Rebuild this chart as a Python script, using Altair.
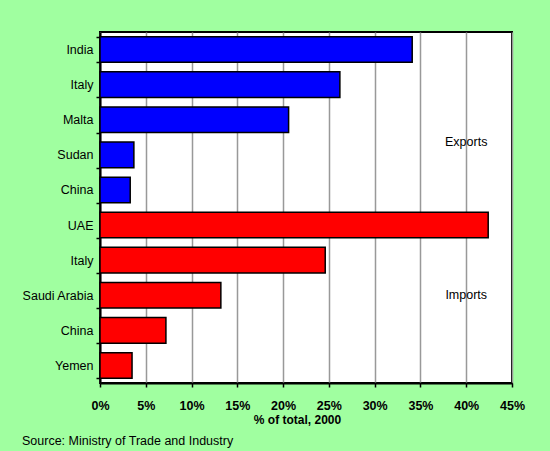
import altair as alt
import pandas as pd

countries = ["India", "Italy", "Malta", "Sudan", "China",
             "UAE", "Italy", "Saudi Arabia", "China", "Yemen"]
shares = [34.1, 26.2, 20.6, 3.7, 3.3, 42.4, 24.6, 13.2, 7.2, 3.5]
flows = ["Exports"] * 5 + ["Imports"] * 5
x_ticks = [0, 5, 10, 15, 20, 25, 30, 35, 40, 45]

note_labels = ["Exports", "Imports"]
note_rows = [3, 7]
note_x = [40, 40]

keys = [str(i) for i in range(len(countries))]
df = pd.DataFrame({"key": keys, "country": countries, "share": shares, "flow": flows})
notes = pd.DataFrame({"label": note_labels, "key": [keys[r] for r in note_rows],
                      "x": note_x})

label_expr = "[" + ",".join("'" + c + "'" for c in countries) + "][toNumber(datum.value)]"

FONT = "Liberation Sans"
FS = 12.5

y_enc = alt.Y("key:N", sort=keys,
              scale=alt.Scale(paddingInner=0.27, paddingOuter=0.135),
              axis=alt.Axis(title=None, labelExpr=label_expr, tickBand="extent",
                            grid=False, domainColor="black", domainWidth=2,
                            tickColor="black", tickSize=4, tickWidth=1.5,
                            labelFont=FONT, labelFontSize=FS, labelColor="black",
                            labelPadding=3))

bars = alt.Chart(df).mark_bar(stroke="black", strokeWidth=1.5).encode(
    x=alt.X("share:Q", scale=alt.Scale(domain=[0, 45], nice=False),
            axis=alt.Axis(values=x_ticks, labelExpr="datum.value + '%'",
                          title="% of total, 2000", titleFont=FONT, titleFontSize=12,
                          titleFontWeight="bold", titleColor="black", titleX=197,
                          titlePadding=3,
                          grid=True, gridColor="#999999", gridWidth=1.5,
                          domainColor="black", domainWidth=2,
                          tickColor="black", tickSize=4, tickWidth=1.5,
                          labelFont=FONT, labelFontSize=FS, labelFontWeight="bold",
                          labelColor="black", labelPadding=12,
                          labelFlush=False, labelOverlap=False)),
    y=y_enc,
    color=alt.Color("flow:N", scale=alt.Scale(domain=["Exports", "Imports"],
                                              range=["#0000FF", "#FF0000"]),
                    legend=None),
)

text_exp = alt.Chart(notes.iloc[[0]]).mark_text(font=FONT, fontSize=FS, color="black", dy=-13).encode(
    x="x:Q", y=alt.Y("key:N", sort=keys), text="label:N")
text_imp = alt.Chart(notes.iloc[[1]]).mark_text(font=FONT, fontSize=FS, color="black").encode(
    x="x:Q", y=alt.Y("key:N", sort=keys), text="label:N")

chart = alt.layer(bars, text_exp, text_imp).properties(
    width=412, height=351,
    padding={"left": 100, "top": 32, "right": 38, "bottom": 68},
    autosize=alt.AutoSizeParams(type="none"),
    title=alt.TitleParams("Source: Ministry of Trade and Industry", orient="bottom",
                          anchor="start", frame="group", dx=-78, offset=9,
                          font=FONT, fontSize=FS, fontWeight="normal", color="black"),
).configure(background="#A0FFA0").configure_view(
    fill="white", stroke="black", strokeWidth=2
)

chart.save("out.html", embed_options={"renderer": "svg", "actions": False})
